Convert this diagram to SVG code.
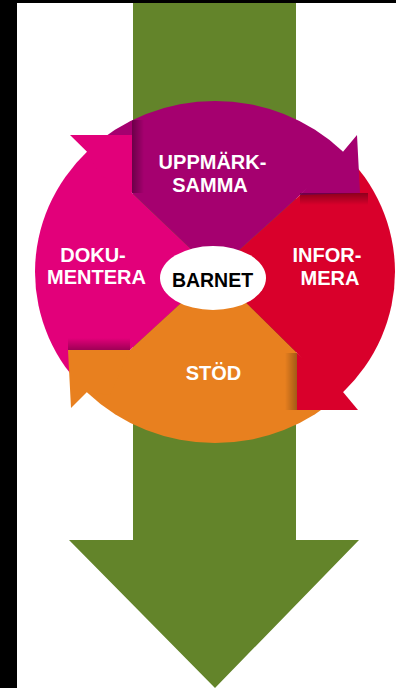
<svg xmlns="http://www.w3.org/2000/svg" width="396" height="688" viewBox="0 0 396 688">
<defs>
<style>
.lbl{font-family:"Liberation Sans",Arial,sans-serif;font-weight:bold;font-size:20px;fill:#ffffff;text-anchor:middle}
.ctr{font-family:"Liberation Sans",Arial,sans-serif;font-weight:bold;font-size:19.5px;fill:#000000;text-anchor:middle}
</style>
<clipPath id="disc"><ellipse cx="215" cy="272" rx="180" ry="171"/></clipPath>
<linearGradient id="shDown" x1="0" y1="0" x2="0" y2="1"><stop offset="0" stop-color="#000" stop-opacity="0.35"/><stop offset="1" stop-color="#000" stop-opacity="0"/></linearGradient>
<linearGradient id="shUp" x1="0" y1="1" x2="0" y2="0"><stop offset="0" stop-color="#000" stop-opacity="0.3"/><stop offset="1" stop-color="#000" stop-opacity="0"/></linearGradient>
<linearGradient id="shRight" x1="0" y1="0" x2="1" y2="0"><stop offset="0" stop-color="#000" stop-opacity="0.35"/><stop offset="1" stop-color="#000" stop-opacity="0"/></linearGradient>
<linearGradient id="shLeft" x1="1" y1="0" x2="0" y2="0"><stop offset="0" stop-color="#000" stop-opacity="0.3"/><stop offset="1" stop-color="#000" stop-opacity="0"/></linearGradient>
</defs>
<rect x="0" y="0" width="396" height="688" fill="#ffffff"/>
<rect x="0" y="0" width="17" height="688" fill="#000000"/>
<rect x="0" y="0" width="396" height="3" fill="#000000"/>
<g id="connectors">
<polygon points="133,3 296,3 296,540 359,540 215,688 69,540 133,540" fill="#63842A"/>
</g>
<g id="dokumentera">
<polygon clip-path="url(#disc)" points="215,272 -34,35 -100,35 -100,506 -40,506" fill="#E2007A"/>
<polygon points="132,193 132,135 70,135 87,151.8 100,175" fill="#E2007A"/>
<text class="lbl" x="93" y="262">DOKU-</text>
<text class="lbl" x="96.5" y="284">MENTERA</text>
</g>
<g id="stod">
<polygon clip-path="url(#disc)" points="215,272 -40,506 -40,700 461,700 461,515" fill="#E8801F"/>
<polygon points="130,350 68,350 71,408 87,392 110,395" fill="#E8801F"/>
<text class="lbl" x="213.5" y="380">STÖD</text>
</g>
<g id="informera">
<polygon clip-path="url(#disc)" points="215,272 470,41 600,41 600,515 461,515" fill="#D9002B"/>
<polygon points="297,353 297,410 358,410 343,392" fill="#D9002B"/>
<text class="lbl" x="327" y="262">INFOR-</text>
<text class="lbl" x="330" y="285">MERA</text>
</g>
<g id="uppmarksamma">
<polygon clip-path="url(#disc)" points="215,272 132,193 132,135 60,135 60,0 470,0 470,41" fill="#A5006F"/>
<polygon points="300,195 360,193 357,135 343,151.8" fill="#A5006F"/>
<text class="lbl" x="212.5" y="169">UPPMÄRK-</text>
<text class="lbl" x="210" y="192">SAMMA</text>
</g>
<g id="shadows" clip-path="url(#disc)">
<rect x="300" y="193" width="68" height="12" fill="url(#shDown)"/>
<rect x="285" y="353" width="12" height="57" fill="url(#shLeft)"/>
<rect x="68" y="338" width="62" height="12" fill="url(#shUp)"/>
<rect x="132" y="120" width="12" height="73" fill="url(#shRight)"/>
</g>
<g id="barnet">
<ellipse cx="213" cy="278" rx="53" ry="32" fill="#ffffff"/>
<text class="ctr" x="212.5" y="287">BARNET</text>
</g>
</svg>
